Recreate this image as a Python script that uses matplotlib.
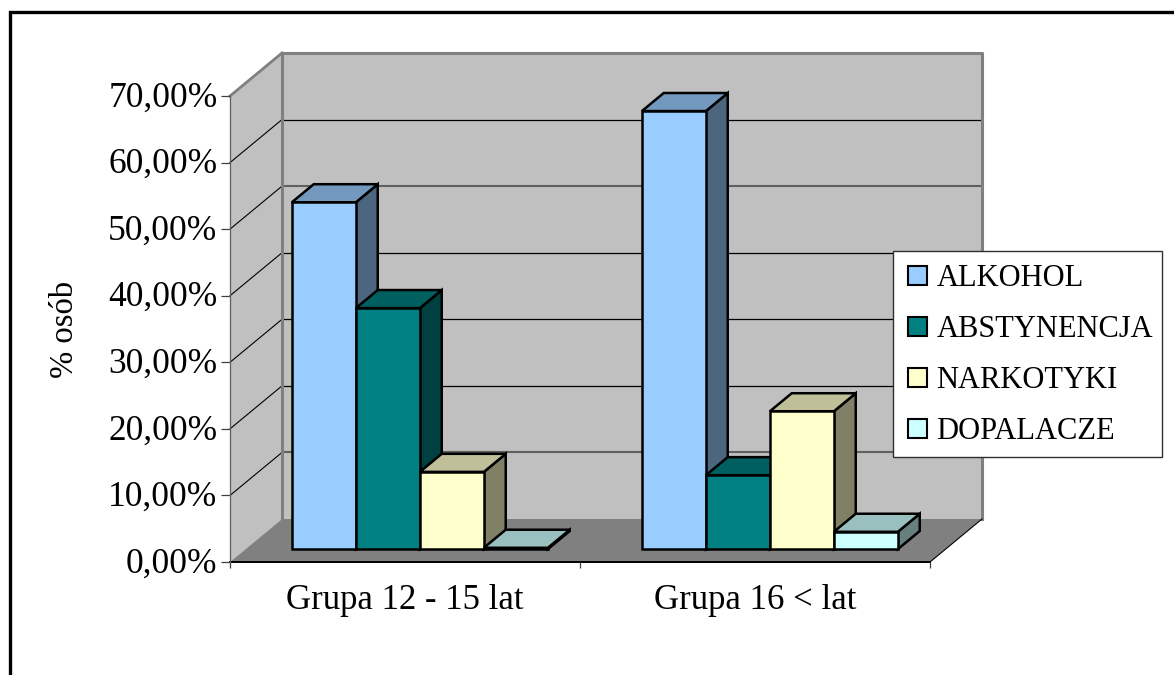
import matplotlib
matplotlib.use("Agg")
import matplotlib.pyplot as plt
from matplotlib.legend_handler import HandlerPatch
from matplotlib.lines import Line2D
from matplotlib.patches import Patch, Polygon, Rectangle
from matplotlib.transforms import ScaledTranslation

plt.rcParams["font.family"] = ["Liberation Serif", "DejaVu Serif"]

groups = ["Grupa 12 - 15 lat", "Grupa 16 < lat"]
series_names = ["ALKOHOL", "ABSTYNENCJA", "NARKOTYKI", "DOPALACZE"]
alkohol = [52.1, 65.8]
abstynencja = [36.2, 11.1]
narkotyki = [11.6, 20.7]
dopalacze = [0.2, 2.6]
series_colors = ["#99CCFF", "#008080", "#FFFFCC", "#CCFFFF"]
y_ticks = [0, 10, 20, 30, 40, 50, 60, 70]
y_tick_labels = ["0,00%", "10,00%", "20,00%", "30,00%", "40,00%", "50,00%", "60,00%", "70,00%"]

# 3D look: depth of the chart box in data units (x in categories, y in percent)
DEPTH_X = 52 / 350
DEPTH_Y = 43 / (466 / 70)
BAR_WIDTH = 64 / 350
GAP = 46.3 / 350
BAR_START = 0.3    # where the bars sit inside the depth of the box
BAR_DEPTH = 0.42


def shade(color, factor):
    rgb = matplotlib.colors.to_rgb(color)
    return tuple(c * factor for c in rgb)


def draw_box(ax, x0, value, color, zorder):
    # front, top and side faces of one bar
    dx = DEPTH_X * BAR_START
    dy = DEPTH_Y * BAR_START
    bx = DEPTH_X * BAR_DEPTH
    by = DEPTH_Y * BAR_DEPTH
    left = x0 + dx
    right = left + BAR_WIDTH
    bottom = dy
    top = dy + value
    style = dict(edgecolor="black", linewidth=1.8, joinstyle="miter", clip_on=False, zorder=zorder)
    ax.add_patch(Polygon([(right, bottom), (right + bx, bottom + by), (right + bx, top + by), (right, top)],
                         facecolor=shade(color, 0.5), **style))
    ax.add_patch(Polygon([(left, top), (right, top), (right + bx, top + by), (left + bx, top + by)],
                         facecolor=shade(color, 0.75), **style))
    ax.add_patch(Polygon([(left, bottom), (right, bottom), (right, top), (left, top)],
                         facecolor=color, **style))


def legend_square(legend, orig_handle, xdescent, ydescent, width, height, fontsize):
    # square pushed to the right end of the handle slot
    return Rectangle((width - height - xdescent, -ydescent), height, height)


fig = plt.figure(figsize=(11.74, 6.75), dpi=100)
ax = fig.add_axes([230 / 1174, (675 - 562) / 675, 700 / 1174, 466 / 675])
ax.set_xlim(0, 2)
ax.set_ylim(0, 70)
ax.patch.set_visible(False)
for name in ("top", "right"):
    ax.spines[name].set_visible(False)
ax.spines["left"].set_color("#606060")
ax.spines["left"].set_linewidth(0.9)
ax.spines["bottom"].set_color("black")
ax.spines["bottom"].set_linewidth(1.4)
ax.spines["bottom"].set_zorder(1.5)

# walls and floor
wall = "#C0C0C0"
ax.add_patch(Polygon([(DEPTH_X, DEPTH_Y), (2 + DEPTH_X, DEPTH_Y), (2 + DEPTH_X, 70 + DEPTH_Y), (DEPTH_X, 70 + DEPTH_Y)],
                     facecolor=wall, edgecolor="none", clip_on=False, zorder=0.1))
ax.add_patch(Polygon([(0, 0), (DEPTH_X, DEPTH_Y), (DEPTH_X, 70 + DEPTH_Y), (0, 70)],
                     facecolor=wall, edgecolor="none", clip_on=False, zorder=0.1))
ax.add_patch(Polygon([(0, 0), (2, 0), (2 + DEPTH_X, DEPTH_Y), (DEPTH_X, DEPTH_Y)],
                     facecolor="#808080", edgecolor="none", clip_on=False, zorder=0.2))

# gridlines: the 10 and 50 percent ones are heavier on the back wall
for tick in y_ticks[1:-1]:
    heavy = tick in (10, 50)
    ax.plot([0, DEPTH_X], [tick, tick + DEPTH_Y], color="black", lw=0.8, clip_on=False, zorder=0.3)
    ax.plot([DEPTH_X, 2 + DEPTH_X], [tick + DEPTH_Y, tick + DEPTH_Y],
            color="#606060" if heavy else "black", lw=1.5 if heavy else 0.9, clip_on=False, zorder=0.3)

# box outline
edge = "#808080"
ax.plot([DEPTH_X, DEPTH_X], [DEPTH_Y, 70 + DEPTH_Y], color=edge, lw=2.2, clip_on=False, zorder=0.4)
ax.plot([DEPTH_X, 2 + DEPTH_X, 2 + DEPTH_X], [70 + DEPTH_Y, 70 + DEPTH_Y, DEPTH_Y],
        color=edge, lw=2.2, clip_on=False, zorder=0.4)
ax.plot([0, DEPTH_X], [70, 70 + DEPTH_Y], color=edge, lw=2.0, clip_on=False, zorder=0.4)
ax.plot([2, 2 + DEPTH_X], [0, DEPTH_Y], color="black", lw=0.8, clip_on=False, zorder=0.4)

# bars, painted left to right so that each one covers its neighbour's side
z = 3
for g in range(len(groups)):
    values = [alkohol[g], abstynencja[g], narkotyki[g], dopalacze[g]]
    for s, value in enumerate(values):
        draw_box(ax, g + GAP + s * BAR_WIDTH, value, series_colors[s], z)
        z += 1

ax.set_yticks(y_ticks)
ax.set_yticklabels(y_tick_labels, fontsize=25.5)
ax.tick_params(axis="y", length=6.5, width=0.9, color="#404040", pad=2.5)
up = ScaledTranslation(0, 1.5 / 72, fig.dpi_scale_trans)
for label in ax.get_yticklabels():
    label.set_transform(label.get_transform() + up)
ax.set_xticks([0, 1, 2])
ax.set_xticklabels([])
ax.tick_params(axis="x", which="major", length=4.5, width=0.9, color="#404040")
ax.set_xticks([0.5, 1.5], minor=True)
ax.set_xticklabels(groups, minor=True, fontsize=25)
ax.tick_params(axis="x", which="minor", length=0, pad=16)

fig.text(65 / 1174, 1 - 329 / 675, "% osób", rotation=90, fontsize=23.5, ha="center", va="center")

# legend frame is a separate rectangle because its padding is uneven
ax.add_patch(Rectangle((893 / 1174, 1 - 457 / 675), 269 / 1174, 206 / 675, transform=fig.transFigure,
                       facecolor="white", edgecolor="#303030", linewidth=1.0, clip_on=False, zorder=49))
handles = [Patch(facecolor=c, edgecolor="black", linewidth=1.5) for c in series_colors]
legend = ax.legend(handles, series_names, loc="upper right", bbox_to_anchor=(1163 / 1174, 1 - 254 / 675),
                   bbox_transform=fig.transFigure, fontsize=22, frameon=False, borderpad=0.33,
                   labelspacing=0.72, handlelength=0.6, handleheight=0.6, handletextpad=0.3, borderaxespad=0,
                   handler_map={Patch: HandlerPatch(patch_func=legend_square)})
legend.set_zorder(50)

# outer chart frame, open on the right and at the bottom
fig.add_artist(Line2D([10 / 1174, 10 / 1174, 1], [0, 1 - 12 / 675, 1 - 12 / 675],
                      color="black", lw=2.4, solid_joinstyle="miter"))

fig.savefig("out.png", dpi=100, facecolor="white")
